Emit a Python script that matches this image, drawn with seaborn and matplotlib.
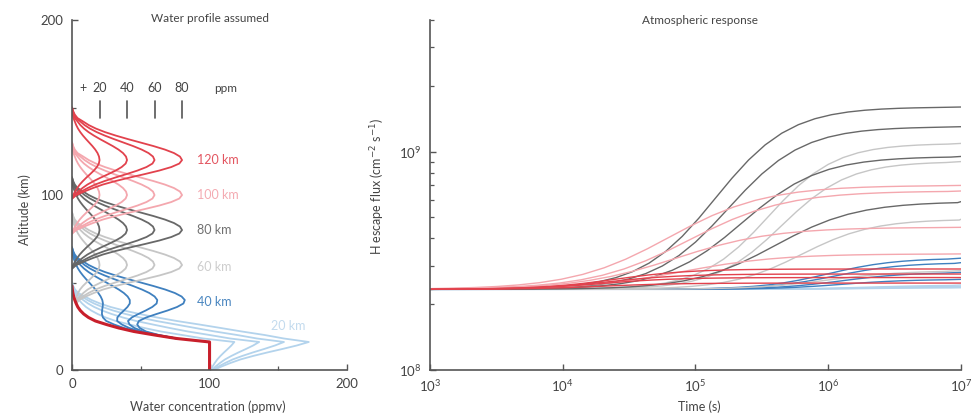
import numpy as np
import pandas as pd
import matplotlib
matplotlib.use("Agg")
import matplotlib.pyplot as plt
import seaborn as sns
from matplotlib.ticker import LogLocator, NullLocator, NullFormatter, FixedLocator

# ---------------- data: left panel (water profiles) ----------------
base_alt = [0, 2, 4, 6, 8, 10, 12, 14, 16, 18, 20, 22, 24, 26, 28, 30, 32, 34,
            36, 38, 40, 42, 44, 46, 48]
base_ppmv = [100, 100, 100, 100, 100, 100, 100, 100, 100, 76, 60, 45, 34, 25, 17,
             12, 8.5, 6, 4.2, 3, 2, 1.2, 0.6, 0.2, 0]
bump_centres = [20, 40, 60, 80, 100, 120]
bump_amps = [20, 40, 60, 80]
bump_offset = [-22, -20, -18, -16, -14, -12, -10, -8, -6, -4, -2, 0, 2, 4, 6, 8,
               10, 12, 14, 16, 18, 20, 22, 24, 26, 28, 30]
bump_frac = [0, 0.04, 0.11, 0.19, 0.28, 0.395, 0.524, 0.662, 0.793, 0.902, 0.975,
             1.0, 0.981, 0.927, 0.844, 0.740, 0.624, 0.507, 0.397, 0.299, 0.217,
             0.152, 0.102, 0.05, 0.025, 0.01, 0]
group_names = ["20 km", "40 km", "60 km", "80 km", "100 km", "120 km"]
group_colors = ["#b3d3ec", "#3f80bf", "#c6c6c6", "#686868", "#f4a7ae", "#e2424d"]
label_colors = ["#c3dbee", "#4a86c0", "#cdcdcd", "#707070", "#f4abb2", "#e35560"]

# ---------------- data: right panel (H escape flux) ----------------
flux_base = 2.34e8
rise_u = [-1.5, -1.375, -1.25, -1.125, -1.0, -0.875, -0.75, -0.625, -0.5, -0.375,
          -0.25, -0.125, 0, 0.125, 0.25, 0.375, 0.5, 0.625, 0.75, 0.875, 1.0,
          1.125, 1.25, 1.375, 1.5, 2.0]
rise_frac = [0.0047, 0.0073, 0.0114, 0.0177, 0.0273, 0.0421, 0.0642, 0.0969,
             0.1436, 0.2076, 0.2905, 0.3902, 0.5, 0.6098, 0.7095, 0.7924, 0.8564,
             0.9031, 0.9358, 0.9579, 0.9727, 0.9823, 0.9886, 0.9927, 0.9953, 1.0]
# final flux (1e8 units), log10 midpoint time, rise width, per group / amplitude
final_20 = [2.45, 2.42, 2.40, 2.38];  mid_20 = [6.3, 6.3, 6.3, 6.3];     w_20 = [1.0, 1.0, 1.0, 1.0]
final_40 = [3.25, 3.1, 2.8, 2.6];     mid_40 = [6.0, 6.05, 6.1, 6.1];    w_40 = [0.9, 0.9, 0.9, 0.9]
final_60 = [10.9, 9.0, 4.9, 2.85];    mid_60 = [5.55, 5.65, 5.8, 6.0];   w_60 = [0.9, 0.9, 0.95, 1.0]
final_80 = [16.0, 13.0, 9.5, 5.9];    mid_80 = [5.15, 5.25, 5.35, 5.6]; w_80 = [1.0, 1.0, 1.05, 1.1]
final_100 = [7.0, 6.6, 4.5, 3.4];     mid_100 = [4.8, 4.95, 4.85, 4.9]; w_100 = [1.3, 1.3, 1.3, 1.3]
final_120 = [2.9, 2.75, 2.65, 2.5];   mid_120 = [4.4, 4.35, 4.3, 4.3]; w_120 = [1.0, 1.0, 1.0, 1.0]
time_min, time_max = 3.0, 7.0

# ---------------- build tables ----------------
base_lookup = dict(zip(base_alt, base_ppmv))
rows = []
for gi, zc in enumerate(bump_centres):
    for amp in bump_amps:
        for off, fr in zip(bump_offset, bump_frac):
            z = zc + off
            if z < 0:
                continue
            rows.append(dict(group=group_names[gi], curve=f"{zc}-{amp}",
                             alt=z, ppmv=base_lookup.get(z, 0.0) + amp * fr))
prof = pd.DataFrame(rows)

finals = [final_20, final_40, final_60, final_80, final_100, final_120]
mids = [mid_20, mid_40, mid_60, mid_80, mid_100, mid_120]
widths = [w_20, w_40, w_60, w_80, w_100, w_120]
rows = []
for gi in range(6):
    for k in range(4):
        fin = finals[gi][k] * 1e8
        pts = [(time_min, flux_base)]
        for u, fr in zip(rise_u, rise_frac):
            lt = mids[gi][k] + widths[gi][k] * u
            if time_min < lt < time_max:
                pts.append((lt, flux_base * (fin / flux_base) ** fr))
        pts.append((time_max, fin))
        for lt, f in pts:
            rows.append(dict(group=group_names[gi], curve=f"{gi}-{k}",
                             time=10 ** lt, flux=f))
resp = pd.DataFrame(rows)

# ---------------- style ----------------
sns.set_theme(style="white")
plt.rcParams["font.family"] = ["Lato", "DejaVu Sans"]
plt.rcParams["axes.edgecolor"] = "#555555"
plt.rcParams["xtick.color"] = "#555555"
plt.rcParams["ytick.color"] = "#555555"
txt = "#444444"

fig = plt.figure(figsize=(9.76, 4.19), dpi=100)
ax1 = fig.add_axes([0.0738, 0.117, 0.2818, 0.835])
ax2 = fig.add_axes([0.4406, 0.117, 0.544, 0.835])

pal = dict(zip(group_names, group_colors))

# left panel
sns.lineplot(data=prof, x="ppmv", y="alt", hue="group", units="curve",
             estimator=None, sort=False, palette=pal, hue_order=group_names,
             legend=False, lw=1.3, ax=ax1)
sns.lineplot(x=base_ppmv, y=base_alt, sort=False, estimator=None,
             color="#c81f2b", lw=2.2, ax=ax1)
ax1.set_xlim(0, 200)
ax1.set_ylim(0, 200)
ax1.xaxis.set_major_locator(FixedLocator([0, 100, 200]))
ax1.yaxis.set_major_locator(FixedLocator([0, 100, 200]))
ax1.xaxis.set_minor_locator(FixedLocator([50, 150]))
ax1.yaxis.set_minor_locator(FixedLocator([50, 150]))
ax1.set_xlabel("")
ax1.set_ylabel("")
label_alt = [25, 39, 59, 80, 100, 120]
label_x = [145, 91, 91, 91, 91, 91]
for gi in range(6):
    ax1.text(label_x[gi], label_alt[gi], group_names[gi], color=label_colors[gi],
             fontsize=9, va="center", ha="left")
# ppm scale bar
scale_vals = [20, 40, 60, 80]
for v in scale_vals:
    ax1.plot([v, v], [144, 154], color="#555555", lw=1.2)
    ax1.text(v, 161, str(v), ha="center", va="center", fontsize=9, color=txt)
ax1.text(8, 161, "+", ha="center", va="center", fontsize=9, color=txt)
ax1.text(103, 161, "ppm", ha="left", va="center", fontsize=8.5, color=txt)

# right panel
sns.lineplot(data=resp, x="time", y="flux", hue="group", units="curve",
             estimator=None, sort=False, palette=pal, hue_order=group_names,
             legend=False, lw=1.0, ax=ax2)
ax2.set_xscale("log")
ax2.set_yscale("log")
ax2.set_xlim(1e3, 1e7)
ax2.set_ylim(1e8, 4e9)
ax2.xaxis.set_major_locator(LogLocator(base=10, numticks=10))
ax2.xaxis.set_minor_locator(NullLocator())
ax2.yaxis.set_major_locator(LogLocator(base=10, numticks=10))
ax2.yaxis.set_minor_locator(LogLocator(base=10, subs=np.arange(2, 10), numticks=20))
ax2.yaxis.set_minor_formatter(NullFormatter())
ax2.set_xlabel("")
ax2.set_ylabel("")

for ax in (ax1, ax2):
    sns.despine(ax=ax)
    ax.spines["left"].set_linewidth(1.2)
    ax.spines["bottom"].set_linewidth(1.2)
    ax.tick_params(which="major", direction="in", length=4, width=1.0,
                   labelsize=9.5, labelcolor=txt, pad=6)
    ax.tick_params(which="minor", direction="in", length=3, width=0.9)
    ax.tick_params(axis="both", which="both", left=True, bottom=True)

fig.text(0.215, 0.957, "Water profile assumed", ha="center", va="center",
         fontsize=8.5, color=txt)
fig.text(0.717, 0.952, "Atmospheric response", ha="center", va="center",
         fontsize=8.5, color=txt)
fig.text(0.0256, 0.5, "Altitude (km)", rotation=90, ha="center", va="center",
         fontsize=9, color=txt)
fig.text(0.213, 0.029, "Water concentration (ppmv)", ha="center", va="center",
         fontsize=9, color=txt)
fig.text(0.387, 0.554, "H escape flux (cm$^{-2}$ s$^{-1}$)", rotation=90,
         ha="center", va="center", fontsize=9, color=txt)
fig.text(0.717, 0.029, "Time (s)", ha="center", va="center", fontsize=9, color=txt)

fig.savefig("out.png", dpi=100)
